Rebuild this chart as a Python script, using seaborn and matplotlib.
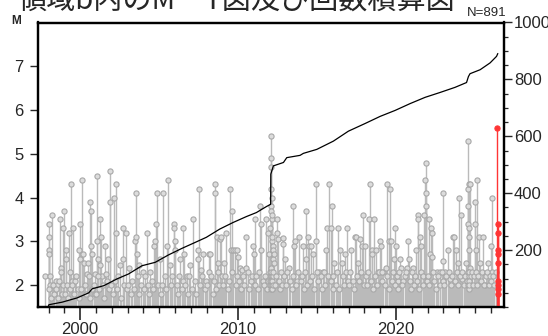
import numpy as np
import pandas as pd
import seaborn as sns
import matplotlib.pyplot as plt
from matplotlib.ticker import MultipleLocator, FixedLocator

sns.set_style('ticks')
plt.rcParams['font.family'] = ['Liberation Sans', 'Noto Sans CJK JP', 'DejaVu Sans']

# ---------------- data ----------------
# larger events (decimal year, M), gray stems
tall_events = [
    (1997.80, 2.2), (1998.00, 3.4), (1998.02, 3.1), (1998.03, 2.8), (1998.04, 2.7), (1998.06, 2.2),
    (1998.12, 2.0), (1998.23, 3.6), (1998.32, 2.0), (1998.44, 2.1), (1998.55, 2.0), (1998.75, 3.5),
    (1998.77, 2.4), (1998.79, 2.3), (1998.93, 3.3), (1998.97, 3.7), (1999.10, 2.6), (1999.13, 2.8),
    (1999.32, 3.2), (1999.34, 2.3), (1999.41, 4.3), (1999.50, 2.1), (1999.56, 3.3), (1999.70, 2.1),
    (1999.92, 2.8), (1999.96, 3.4), (2000.02, 2.6), (2000.13, 4.4), (2000.20, 2.7), (2000.25, 2.5),
    (2000.45, 2.25), (2000.49, 2.5), (2000.65, 3.9), (2000.67, 3.7), (2000.70, 2.9), (2000.72, 2.7),
    (2000.91, 2.25), (2001.06, 3.0), (2001.08, 4.5), (2001.10, 2.6), (2001.24, 2.45), (2001.28, 3.5),
    (2001.33, 3.1), (2001.37, 2.2), (2001.60, 2.9), (2001.62, 2.25), (2001.77, 2.6), (2001.88, 3.9),
    (2001.92, 4.6), (2002.13, 4.0), (2002.26, 4.3), (2002.28, 3.2), (2002.53, 2.45), (2002.70, 2.6),
    (2002.74, 3.3), (2002.89, 3.2), (2003.10, 2.4), (2003.50, 3.0), (2003.53, 4.1), (2003.55, 3.1),
    (2003.60, 2.7), (2003.75, 2.45), (2003.95, 2.3), (2004.22, 3.2), (2004.45, 2.3), (2004.70, 2.9),
    (2004.76, 3.0), (2004.82, 3.4), (2004.85, 4.1), (2005.05, 2.6), (2005.27, 4.1), (2005.49, 2.9),
    (2005.59, 4.4), (2005.68, 2.45), (2005.91, 3.4), (2005.96, 3.3), (2006.00, 3.0), (2006.03, 2.8),
    (2006.35, 2.6), (2006.54, 3.3), (2006.56, 2.7), (2006.75, 2.2), (2006.98, 2.45), (2007.17, 3.5),
    (2007.44, 2.6), (2007.47, 2.8), (2007.53, 4.2), (2007.65, 2.35), (2007.80, 2.7), (2008.15, 2.7),
    (2008.18, 2.3), (2008.22, 2.7), (2008.53, 4.3), (2008.55, 4.1), (2008.66, 3.1), (2008.75, 2.5),
    (2008.85, 3.05), (2008.92, 3.1), (2009.10, 2.5), (2009.26, 3.2), (2009.51, 4.2), (2009.55, 2.8),
    (2009.62, 3.7), (2009.70, 2.8), (2009.80, 2.8), (2009.90, 2.8), (2010.00, 2.65), (2010.10, 2.4),
    (2010.25, 2.35), (2010.50, 2.4), (2010.53, 3.1), (2010.95, 2.9), (2011.00, 2.7), (2011.08, 3.5),
    (2011.41, 3.8), (2011.45, 3.4), (2011.48, 2.8), (2011.75, 3.5), (2011.88, 3.2), (2011.95, 2.7),
    (2012.04, 3.3), (2012.06, 5.4), (2012.07, 4.9), (2012.08, 4.7), (2012.09, 4.2), (2012.10, 3.8),
    (2012.11, 3.7), (2012.12, 3.5), (2012.13, 3.6), (2012.14, 3.0), (2012.15, 4.0), (2012.17, 3.1),
    (2012.19, 2.9), (2012.21, 2.8), (2012.23, 2.6), (2012.26, 2.7), (2012.28, 2.5), (2012.45, 3.5),
    (2012.47, 3.2), (2012.55, 3.05), (2012.83, 2.95), (2012.87, 3.08), (2012.95, 2.6), (2013.20, 2.4),
    (2013.50, 3.8), (2013.52, 2.9), (2013.60, 3.0), (2013.70, 2.1), (2013.88, 3.1), (2014.10, 2.9),
    (2014.28, 3.7), (2014.30, 2.6), (2014.40, 3.1), (2014.50, 2.9), (2014.60, 2.9), (2014.75, 2.7),
    (2014.90, 3.0), (2014.94, 4.3), (2015.15, 2.3), (2015.35, 2.3), (2015.55, 2.8), (2015.65, 3.3),
    (2015.78, 4.3), (2015.85, 3.3), (2015.93, 3.8), (2016.10, 2.5), (2016.35, 3.3), (2016.45, 2.8),
    (2016.55, 2.5), (2016.75, 2.7), (2016.88, 3.3), (2017.17, 2.8), (2017.42, 3.1), (2017.48, 3.1),
    (2017.60, 2.5), (2017.70, 3.05), (2017.85, 2.9), (2017.91, 3.6), (2018.02, 2.9), (2018.27, 3.5),
    (2018.33, 4.3), (2018.45, 2.8), (2018.50, 2.7), (2018.61, 3.5), (2018.75, 2.8), (2018.85, 2.3),
    (2019.01, 3.0), (2019.04, 2.9), (2019.20, 2.3), (2019.35, 2.4), (2019.45, 4.3), (2019.58, 3.0),
    (2019.60, 4.2), (2019.68, 3.0), (2019.85, 2.6), (2019.92, 3.3), (2020.00, 2.9), (2020.10, 2.1),
    (2020.25, 2.6), (2020.30, 2.4), (2020.45, 2.1), (2020.72, 2.4), (2020.76, 3.0), (2020.80, 2.6),
    (2021.10, 2.4), (2021.28, 2.8), (2021.39, 3.6), (2021.41, 3.5), (2021.50, 3.1), (2021.60, 2.9),
    (2021.77, 3.6), (2021.85, 4.4), (2021.87, 4.8), (2021.88, 4.1), (2021.90, 3.8), (2022.11, 3.5),
    (2022.15, 2.7), (2022.20, 3.3), (2022.25, 3.2), (2022.30, 2.65), (2022.60, 2.3), (2022.80, 2.3),
    (2022.97, 2.55), (2022.99, 4.1), (2023.10, 2.3), (2023.27, 2.8), (2023.40, 2.15), (2023.58, 3.1),
    (2023.68, 3.1), (2023.80, 2.8), (2023.90, 2.5), (2024.01, 4.0), (2024.11, 3.6), (2024.20, 2.15),
    (2024.45, 2.5), (2024.55, 3.4), (2024.56, 4.2), (2024.57, 3.8), (2024.58, 5.3), (2024.59, 4.3),
    (2024.60, 3.3), (2024.61, 3.1), (2024.63, 2.8), (2024.65, 2.4), (2024.68, 4.3), (2025.00, 3.9),
    (2025.01, 3.4), (2025.08, 2.8), (2025.10, 4.4), (2025.25, 3.1), (2025.30, 2.5), (2025.50, 3.1),
    (2025.65, 2.0), (2025.80, 2.5), (2026.03, 2.9), (2026.06, 4.0), (2026.10, 2.3),
]

# small events forming the dense gray band at the bottom
base_events = [
    (1998.05, 1.9), (1998.15, 1.7), (1998.28, 2.0), (1998.36, 1.8), (1998.48, 1.9), (1998.60, 1.7), (1998.68, 2.1), (1998.82, 1.8), (1998.90, 2.0),
    (1999.03, 1.8), (1999.18, 2.0), (1999.25, 1.7), (1999.38, 1.9), (1999.46, 2.0), (1999.62, 1.8), (1999.75, 2.2), (1999.85, 1.9), (1999.95, 1.7),
    (2000.05, 1.9), (2000.30, 2.0), (2000.38, 1.8), (2000.55, 2.2), (2000.60, 1.7), (2000.78, 1.9), (2000.85, 2.0), (2000.96, 1.8),
    (2001.02, 1.8), (2001.15, 2.2), (2001.20, 1.9), (2001.45, 2.0), (2001.52, 1.7), (2001.70, 2.1), (2001.83, 1.9), (2001.97, 2.0),
    (2002.05, 1.8), (2002.18, 2.1), (2002.35, 1.9), (2002.42, 2.2), (2002.60, 1.7), (2002.80, 2.0), (2002.95, 1.9),
    (2003.05, 2.0), (2003.20, 1.8), (2003.30, 2.1), (2003.40, 1.9), (2003.65, 2.2), (2003.72, 1.8), (2003.85, 2.0),
    (2004.05, 1.9), (2004.12, 2.2), (2004.30, 2.0), (2004.38, 1.8), (2004.55, 2.1), (2004.62, 1.9), (2004.92, 2.0),
    (2005.10, 1.8), (2005.18, 2.0), (2005.38, 2.2), (2005.45, 1.9), (2005.75, 2.0), (2005.82, 2.2),
    (2006.10, 2.0), (2006.18, 1.8), (2006.25, 2.2), (2006.42, 1.9), (2006.48, 2.1), (2006.65, 2.0), (2006.85, 1.8), (2006.92, 2.2),
    (2007.05, 1.9), (2007.25, 2.1), (2007.32, 1.8), (2007.60, 2.0), (2007.72, 2.2), (2007.88, 1.9), (2007.95, 2.1),
    (2008.05, 2.0), (2008.30, 2.2), (2008.38, 1.8), (2008.45, 2.1), (2008.62, 1.9), (2008.70, 2.3), (2008.82, 2.0), (2008.98, 2.2),
    (2009.05, 2.0), (2009.18, 2.2), (2009.35, 1.9), (2009.42, 2.1), (2009.60, 2.3), (2009.85, 2.0), (2009.95, 2.2),
    (2010.05, 2.1), (2010.18, 1.9), (2010.32, 2.2), (2010.40, 2.0), (2010.62, 2.3), (2010.70, 1.9), (2010.80, 2.1), (2010.88, 2.2),
    (2011.05, 2.0), (2011.15, 2.2), (2011.25, 1.9), (2011.32, 2.3), (2011.55, 2.1), (2011.62, 2.0), (2011.70, 2.2), (2011.82, 1.9), (2011.92, 2.1),
    (2012.01, 2.3), (2012.02, 2.1), (2012.03, 2.0), (2012.05, 2.2), (2012.065, 1.9), (2012.075, 2.4), (2012.085, 2.1), (2012.095, 2.0),
    (2012.105, 2.3), (2012.115, 1.9), (2012.125, 2.2), (2012.135, 2.0), (2012.145, 2.1), (2012.16, 1.9), (2012.18, 2.2), (2012.20, 2.0),
    (2012.22, 2.3), (2012.32, 2.0), (2012.38, 2.2), (2012.60, 2.1), (2012.65, 1.9), (2012.72, 2.3), (2012.78, 2.0), (2012.92, 2.2),
    (2013.05, 2.0), (2013.12, 2.3), (2013.30, 2.1), (2013.38, 1.9), (2013.45, 2.2), (2013.65, 2.0), (2013.78, 2.3), (2013.95, 2.1),
    (2014.05, 2.2), (2014.18, 1.9), (2014.22, 2.3), (2014.35, 2.0), (2014.55, 2.1), (2014.68, 2.2), (2014.82, 1.9), (2014.98, 2.3),
    (2015.05, 2.1), (2015.22, 2.2), (2015.28, 1.9), (2015.45, 2.3), (2015.50, 2.0), (2015.70, 2.2), (2015.88, 2.1), (2015.98, 1.9),
    (2016.02, 2.2), (2016.18, 2.0), (2016.25, 2.3), (2016.40, 1.9), (2016.62, 2.2), (2016.68, 2.0), (2016.82, 2.3), (2016.95, 2.1),
    (2017.05, 2.0), (2017.10, 2.3), (2017.25, 2.1), (2017.35, 1.9), (2017.52, 2.2), (2017.65, 2.1), (2017.78, 2.3), (2017.97, 2.0),
    (2018.08, 2.2), (2018.15, 2.0), (2018.22, 2.3), (2018.40, 2.1), (2018.55, 1.9), (2018.68, 2.2), (2018.80, 2.0), (2018.92, 2.3),
    (2019.08, 2.1), (2019.12, 2.3), (2019.28, 2.0), (2019.40, 2.2), (2019.52, 1.9), (2019.75, 2.1), (2019.80, 2.3), (2019.95, 2.0),
    (2020.05, 2.2), (2020.15, 1.9), (2020.20, 2.3), (2020.35, 2.0), (2020.55, 2.2), (2020.62, 2.3), (2020.88, 2.1), (2020.95, 1.9),
    (2021.02, 2.3), (2021.15, 2.0), (2021.20, 2.2), (2021.32, 2.1), (2021.48, 1.9), (2021.55, 2.3), (2021.68, 2.2), (2021.72, 2.0), (2021.95, 2.1),
    (2022.02, 2.2), (2022.08, 2.0), (2022.35, 2.3), (2022.42, 2.1), (2022.50, 1.9), (2022.68, 2.2), (2022.75, 2.0), (2022.88, 2.3), (2022.95, 2.1),
    (2023.05, 2.0), (2023.18, 2.2), (2023.32, 2.3), (2023.48, 2.0), (2023.52, 2.2), (2023.72, 2.1), (2023.85, 2.3), (2023.95, 2.0),
    (2024.05, 2.2), (2024.15, 2.3), (2024.30, 2.0), (2024.38, 2.2), (2024.52, 2.1), (2024.555, 2.3), (2024.565, 2.0), (2024.585, 2.2),
    (2024.595, 1.9), (2024.62, 2.3), (2024.635, 2.1), (2024.645, 2.0), (2024.72, 2.2), (2024.78, 2.3), (2024.85, 2.0), (2024.92, 2.2),
    (2025.05, 2.3), (2025.15, 2.0), (2025.20, 2.2), (2025.35, 2.1), (2025.42, 2.3), (2025.58, 2.0), (2025.70, 2.2), (2025.75, 2.3),
    (2025.88, 2.0), (2025.95, 2.2), (2026.02, 2.1), (2026.15, 2.2), (2026.22, 2.0), (2026.30, 2.3),
]

# latest events, drawn in red
red_events = [
    (2026.42, 5.6), (2026.425, 3.4), (2026.43, 3.2), (2026.435, 2.8), (2026.44, 2.7),
    (2026.44, 2.5), (2026.445, 2.1), (2026.445, 2.0), (2026.45, 1.9), (2026.45, 1.8),
]

# cumulative number of events (right axis)
cum_points = [
    (1997.97, 0), (1998.02, 8), (1998.86, 17), (1999.81, 32), (2000.55, 50), (2000.76, 64),
    (2001.50, 75), (2002.34, 99), (2003.06, 116), (2003.91, 145), (2004.75, 157), (2005.59, 183),
    (2006.44, 206), (2007.28, 227), (2007.99, 245), (2008.84, 274), (2009.68, 297), (2010.53, 318),
    (2011.16, 332), (2011.79, 353), (2012.06, 361), (2012.07, 467), (2012.23, 496), (2012.87, 508),
    (2013.08, 525), (2013.92, 533), (2014.13, 540), (2014.98, 554), (2016.03, 583), (2016.98, 618),
    (2018.04, 645), (2018.99, 670), (2019.94, 691), (2020.89, 715), (2021.84, 737), (2022.78, 754),
    (2023.73, 772), (2024.46, 789), (2024.58, 810), (2024.68, 820), (2025.32, 834), (2025.95, 858),
    (2026.36, 881), (2026.44, 891),
]

title = '領域b内のM－T図及び回数積算図'
n_total = 891
year_ticks = [2000, 2010, 2020]
m_ticks = [2, 3, 4, 5, 6, 7]
n_ticks = [200, 400, 600, 800, 1000]

gray = pd.DataFrame(tall_events + base_events, columns=['t', 'M'])
red = pd.DataFrame(red_events, columns=['t', 'M'])
cum = pd.DataFrame(cum_points, columns=['t', 'n'])

# ---------------- figure ----------------
fig = plt.figure(figsize=(5.48, 3.36), dpi=100)
ax = fig.add_axes([37.5 / 548, 29 / 336, 466 / 548, 284.5 / 336])
ymin = 1.5

ax.vlines(gray['t'], ymin, gray['M'], color='#bababa', lw=1.0, zorder=1)
sns.scatterplot(data=gray, x='t', y='M', ax=ax, marker='o', s=14, color='#dcdcdc',
                edgecolor='#a8a8a8', linewidth=0.8, zorder=2, legend=False)
ax.vlines(red['t'], ymin, red['M'], color='#ff3535', lw=1.0, zorder=3)
sns.scatterplot(data=red, x='t', y='M', ax=ax, marker='o', s=14, color='#ff3535',
                edgecolor='#ff3535', linewidth=0.8, zorder=4, legend=False)

ax.set_xlim(1997.3, 2026.8)
ax.set_ylim(ymin, 8.0)
ax.xaxis.set_major_locator(FixedLocator(year_ticks))
ax.xaxis.set_minor_locator(MultipleLocator(1))
ax.set_yticks(m_ticks)
ax.set_xlabel('')
ax.set_ylabel('')
ax.tick_params(axis='x', which='major', direction='out', length=9.5, width=1.2, labelsize=12, pad=1)
ax.tick_params(axis='x', which='minor', direction='out', length=4.5, width=1.0)
ax.tick_params(axis='y', which='major', direction='out', length=6, width=1.0, labelsize=12, pad=4)

ax2 = ax.twinx()
sns.lineplot(data=cum, x='t', y='n', ax=ax2, color='black', lw=0.9, estimator=None, sort=False)
ax2.set_ylim(0, 1000)
ax2.set_yticks(n_ticks)
ax2.yaxis.set_minor_locator(MultipleLocator(50))
ax2.set_ylabel('')
ax2.tick_params(axis='y', which='major', direction='out', length=6, width=1.0, labelsize=12, pad=1.5)
ax2.tick_params(axis='y', which='minor', direction='out', length=3, width=0.9)

for a in (ax, ax2):
    for s in a.spines.values():
        s.set_visible(True)
        s.set_linewidth(1.6)
        s.set_color('black')

fig.text(16 / 548, 1 - 21.5 / 336, 'M', fontsize=8.5, fontweight='bold', ha='center', va='center')
fig.text(487 / 548, 1 - 13 / 336, 'N=%d' % n_total, fontsize=9.5, ha='center', va='center')
fig.text(236 / 548, 1 - 8.5 / 336, title, fontsize=21, ha='center', va='baseline',
         family=['Noto Sans CJK JP', 'DejaVu Sans'])

fig.savefig('out.png', dpi=100)
